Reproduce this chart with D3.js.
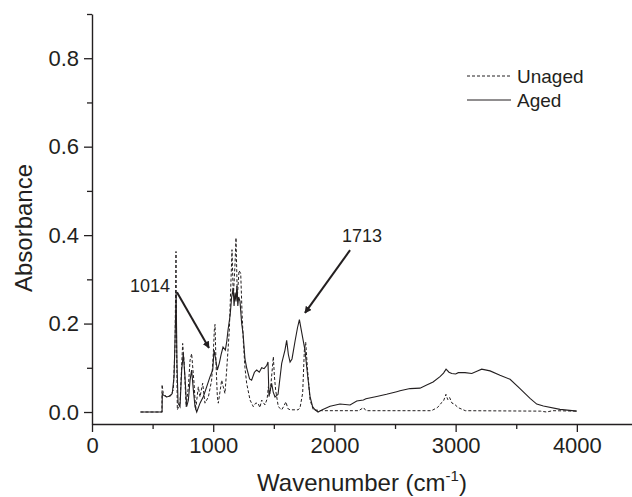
<!DOCTYPE html>
<html>
<head>
<meta charset="utf-8">
<script src="https://cdn.jsdelivr.net/npm/d3@7"></script>
<style>
html,body{margin:0;padding:0;background:#fff;}
svg{display:block;font-family:"Liberation Sans",Arial,sans-serif;}
</style>
</head>
<body>
<svg id="chart" width="632" height="497"></svg>
<script>
// ---- data (wavenumber, absorbance) ----
const agedWn = [400,578,580,590,615,645,662,677,687,694,701,710,726,740,753,767,781,795,809,822,836,850,864,891,919,946,974,996,1007,1017,1034,1050,1065,1081,1100,1112,1122,1140,1152,1165,1172,1180,1188,1195,1203,1210,1221,1235,1246,1262,1276,1300,1317,1340,1359,1380,1400,1420,1441,1452,1460,1482,1495,1510,1535,1565,1592,1606,1620,1634,1650,1675,1695,1711,1730,1757,1780,1799,1820,1840,1865,1900,1964,2046,2129,2184,2239,2260,2349,2430,2514,2541,2624,2706,2761,2814,2871,2900,2921,2945,2968,3000,3022,3077,3133,3180,3215,3284,3366,3449,3531,3614,3669,3724,3861,4000];
const agedAbs = [0,0,0.042,0.038,0.034,0.036,0.042,0.08,0.185,0.272,0.11,0.02,0.012,0.095,0.132,0.08,0.012,0.027,0.072,0.095,0.05,0.012,0.0,0.02,0.035,0.057,0.08,0.095,0.14,0.125,0.095,0.11,0.13,0.147,0.14,0.16,0.185,0.22,0.26,0.28,0.24,0.27,0.25,0.285,0.24,0.26,0.25,0.2,0.178,0.12,0.1,0.075,0.072,0.09,0.095,0.09,0.1,0.098,0.105,0.113,0.035,0.065,0.045,0.034,0.04,0.11,0.14,0.162,0.13,0.113,0.12,0.16,0.19,0.209,0.18,0.14,0.08,0.035,0.012,0.005,0.0,0.005,0.013,0.018,0.016,0.025,0.027,0.03,0.035,0.04,0.046,0.048,0.053,0.054,0.061,0.068,0.08,0.088,0.097,0.09,0.087,0.086,0.089,0.089,0.087,0.093,0.097,0.093,0.083,0.074,0.053,0.031,0.018,0.0135,0.006,0.002];

const unagedWn = [400,577,578,588,616,649,671,685,693,698,704,726,748,761,776,795,809,822,842,855,877,891,913,932,960,987,1001,1009,1015,1023,1034,1042,1070,1083,1097,1111,1133,1147,1155,1166,1180,1188,1199,1213,1227,1238,1248,1262,1276,1304,1331,1350,1370,1385,1400,1427,1445,1455,1469,1485,1496,1505,1515,1537,1565,1580,1600,1615,1634,1700,1716,1738,1752,1763,1777,1799,1826,1900,2200,2240,2260,2800,2850,2880,2900,2920,2935,2950,2970,2990,3020,3080,3700,3750,3800,4000];
const unagedAbs = [0,0,0.062,0.042,0.034,0.038,0.05,0.15,0.363,0.15,0.005,0.02,0.155,0.11,0.012,0.057,0.117,0.132,0.065,0.005,0.057,0.034,0.065,0.02,0.034,0.072,0.133,0.185,0.198,0.11,0.035,0.02,0.072,0.057,0.042,0.095,0.185,0.3,0.367,0.26,0.335,0.394,0.26,0.32,0.313,0.223,0.162,0.1,0.065,0.027,0.012,0.02,0.02,0.01,0.027,0.016,0.03,0.057,0.042,0.09,0.125,0.08,0.05,0.012,0.005,0.012,0.023,0.008,0.005,0.005,0.009,0.043,0.14,0.158,0.1,0.027,0.005,0.003,0.003,0.01,0.003,0.003,0.01,0.02,0.025,0.04,0.028,0.033,0.02,0.018,0.01,0.003,0.002,0.0,0.003,0.002];

const xTicks = [0,1000,2000,3000,4000];
const xMinor = [500,1500,2500,3500];
const yTicks = [0.0,0.2,0.4,0.6,0.8];
const yMinor = [0.1,0.3,0.5,0.7,0.9];
const seriesNames = ["Unaged","Aged"];
const annotations = [
  {label:"1014", tx:313, ty:0.271, x1:701, y1:0.271, x2:965, y2:0.145},
  {label:"1713", tx:2063, ty:0.384, x1:2129, y1:0.366, x2:1757, y2:0.224}
];

(function(){
// ---- layout ----
const svg = d3.select("#chart");
const mL = 92, mR = 632, mT = 14, mB = 424;
const x = d3.scaleLinear().domain([0,4455]).range([mL,mR]);
const y = d3.scaleLinear().domain([-0.0271,0.9]).range([mB,mT]);
const ink = "#231f20";

svg.append("defs").append("marker")
  .attr("id","arr").attr("viewBox","0 0 10 10").attr("refX",9).attr("refY",5)
  .attr("markerWidth",7).attr("markerHeight",7).attr("orient","auto")
  .attr("markerUnits","userSpaceOnUse")
  .append("path").attr("d","M0,0L10,5L0,10z").attr("fill",ink);

// ---- lines ----
const line = d3.line().x(d=>x(d[0])).y(d=>y(d[1]));
const aged = agedWn.map((w,i)=>[w,agedAbs[i]]);
const unaged = unagedWn.map((w,i)=>[w,unagedAbs[i]]);

svg.append("path").datum(aged).attr("d",line)
  .attr("fill","none").attr("stroke",ink).attr("stroke-width",1.1);
svg.append("path").datum(unaged).attr("d",line)
  .attr("fill","none").attr("stroke",ink).attr("stroke-width",1)
  .attr("stroke-dasharray","3,2");

// ---- axes ----
const fs = 22;
const xAxis = svg.append("g").attr("transform",`translate(0,${mB})`)
  .call(d3.axisBottom(x).tickValues(xTicks).tickSize(8).tickPadding(5).tickSizeOuter(0).tickFormat(d3.format("d")));
const xAxisMinor = svg.append("g").attr("transform",`translate(0,${mB})`)
  .call(d3.axisBottom(x).tickValues(xMinor).tickSize(5).tickSizeOuter(0).tickFormat(""));
const yAxis = svg.append("g").attr("transform",`translate(${mL},0)`)
  .call(d3.axisLeft(y).tickValues(yTicks).tickSize(8).tickPadding(5).tickSizeOuter(0).tickFormat(d3.format(".1f")));
const yAxisMinor = svg.append("g").attr("transform",`translate(${mL},0)`)
  .call(d3.axisLeft(y).tickValues(yMinor).tickSize(5).tickSizeOuter(0).tickFormat(""));

[xAxis,xAxisMinor,yAxis,yAxisMinor].forEach(g=>{
  g.select(".domain").attr("stroke",ink).attr("stroke-width",1.4);
  g.selectAll(".tick line").attr("stroke",ink).attr("stroke-width",1.3);
  g.selectAll("text").attr("fill",ink).style("font-size",fs+"px")
    .style("font-family","'Liberation Sans',Arial,sans-serif");
});
xAxisMinor.select(".domain").remove();
yAxisMinor.select(".domain").remove();

// ---- titles ----
const xt = svg.append("text").attr("x",(mL+mR)/2).attr("y",491)
  .attr("text-anchor","middle").attr("fill",ink).style("font-size","24px");
xt.append("tspan").text("Wavenumber (cm");
xt.append("tspan").text("-1").style("font-size","15px").attr("dy",-10);
xt.append("tspan").text(")").attr("dy",10);

svg.append("text").attr("transform","translate(32,228) rotate(-90)")
  .attr("text-anchor","middle").attr("fill",ink).style("font-size","24px")
  .text("Absorbance");

// ---- annotations ----
annotations.forEach(a=>{
  svg.append("text").attr("x",x(a.tx)).attr("y",y(a.ty)).attr("fill",ink)
    .style("font-size","18px").text(a.label);
  svg.append("line").attr("x1",x(a.x1)).attr("y1",y(a.y1)).attr("x2",x(a.x2)).attr("y2",y(a.y2))
    .attr("stroke",ink).attr("stroke-width",2).attr("marker-end","url(#arr)");
});

// ---- legend ----
const lg = svg.append("g");
seriesNames.forEach((name,i)=>{
  const yy = 76 + i*24;
  lg.append("line").attr("x1",467).attr("x2",511).attr("y1",yy).attr("y2",yy)
    .attr("stroke",ink).attr("stroke-width",1)
    .attr("stroke-dasharray", name==="Unaged" ? "3,2" : null);
  lg.append("text").attr("x",517).attr("y",yy).attr("dy","0.35em").attr("fill",ink)
    .style("font-size","19px").text(name);
});
})();
</script>
</body>
</html>
